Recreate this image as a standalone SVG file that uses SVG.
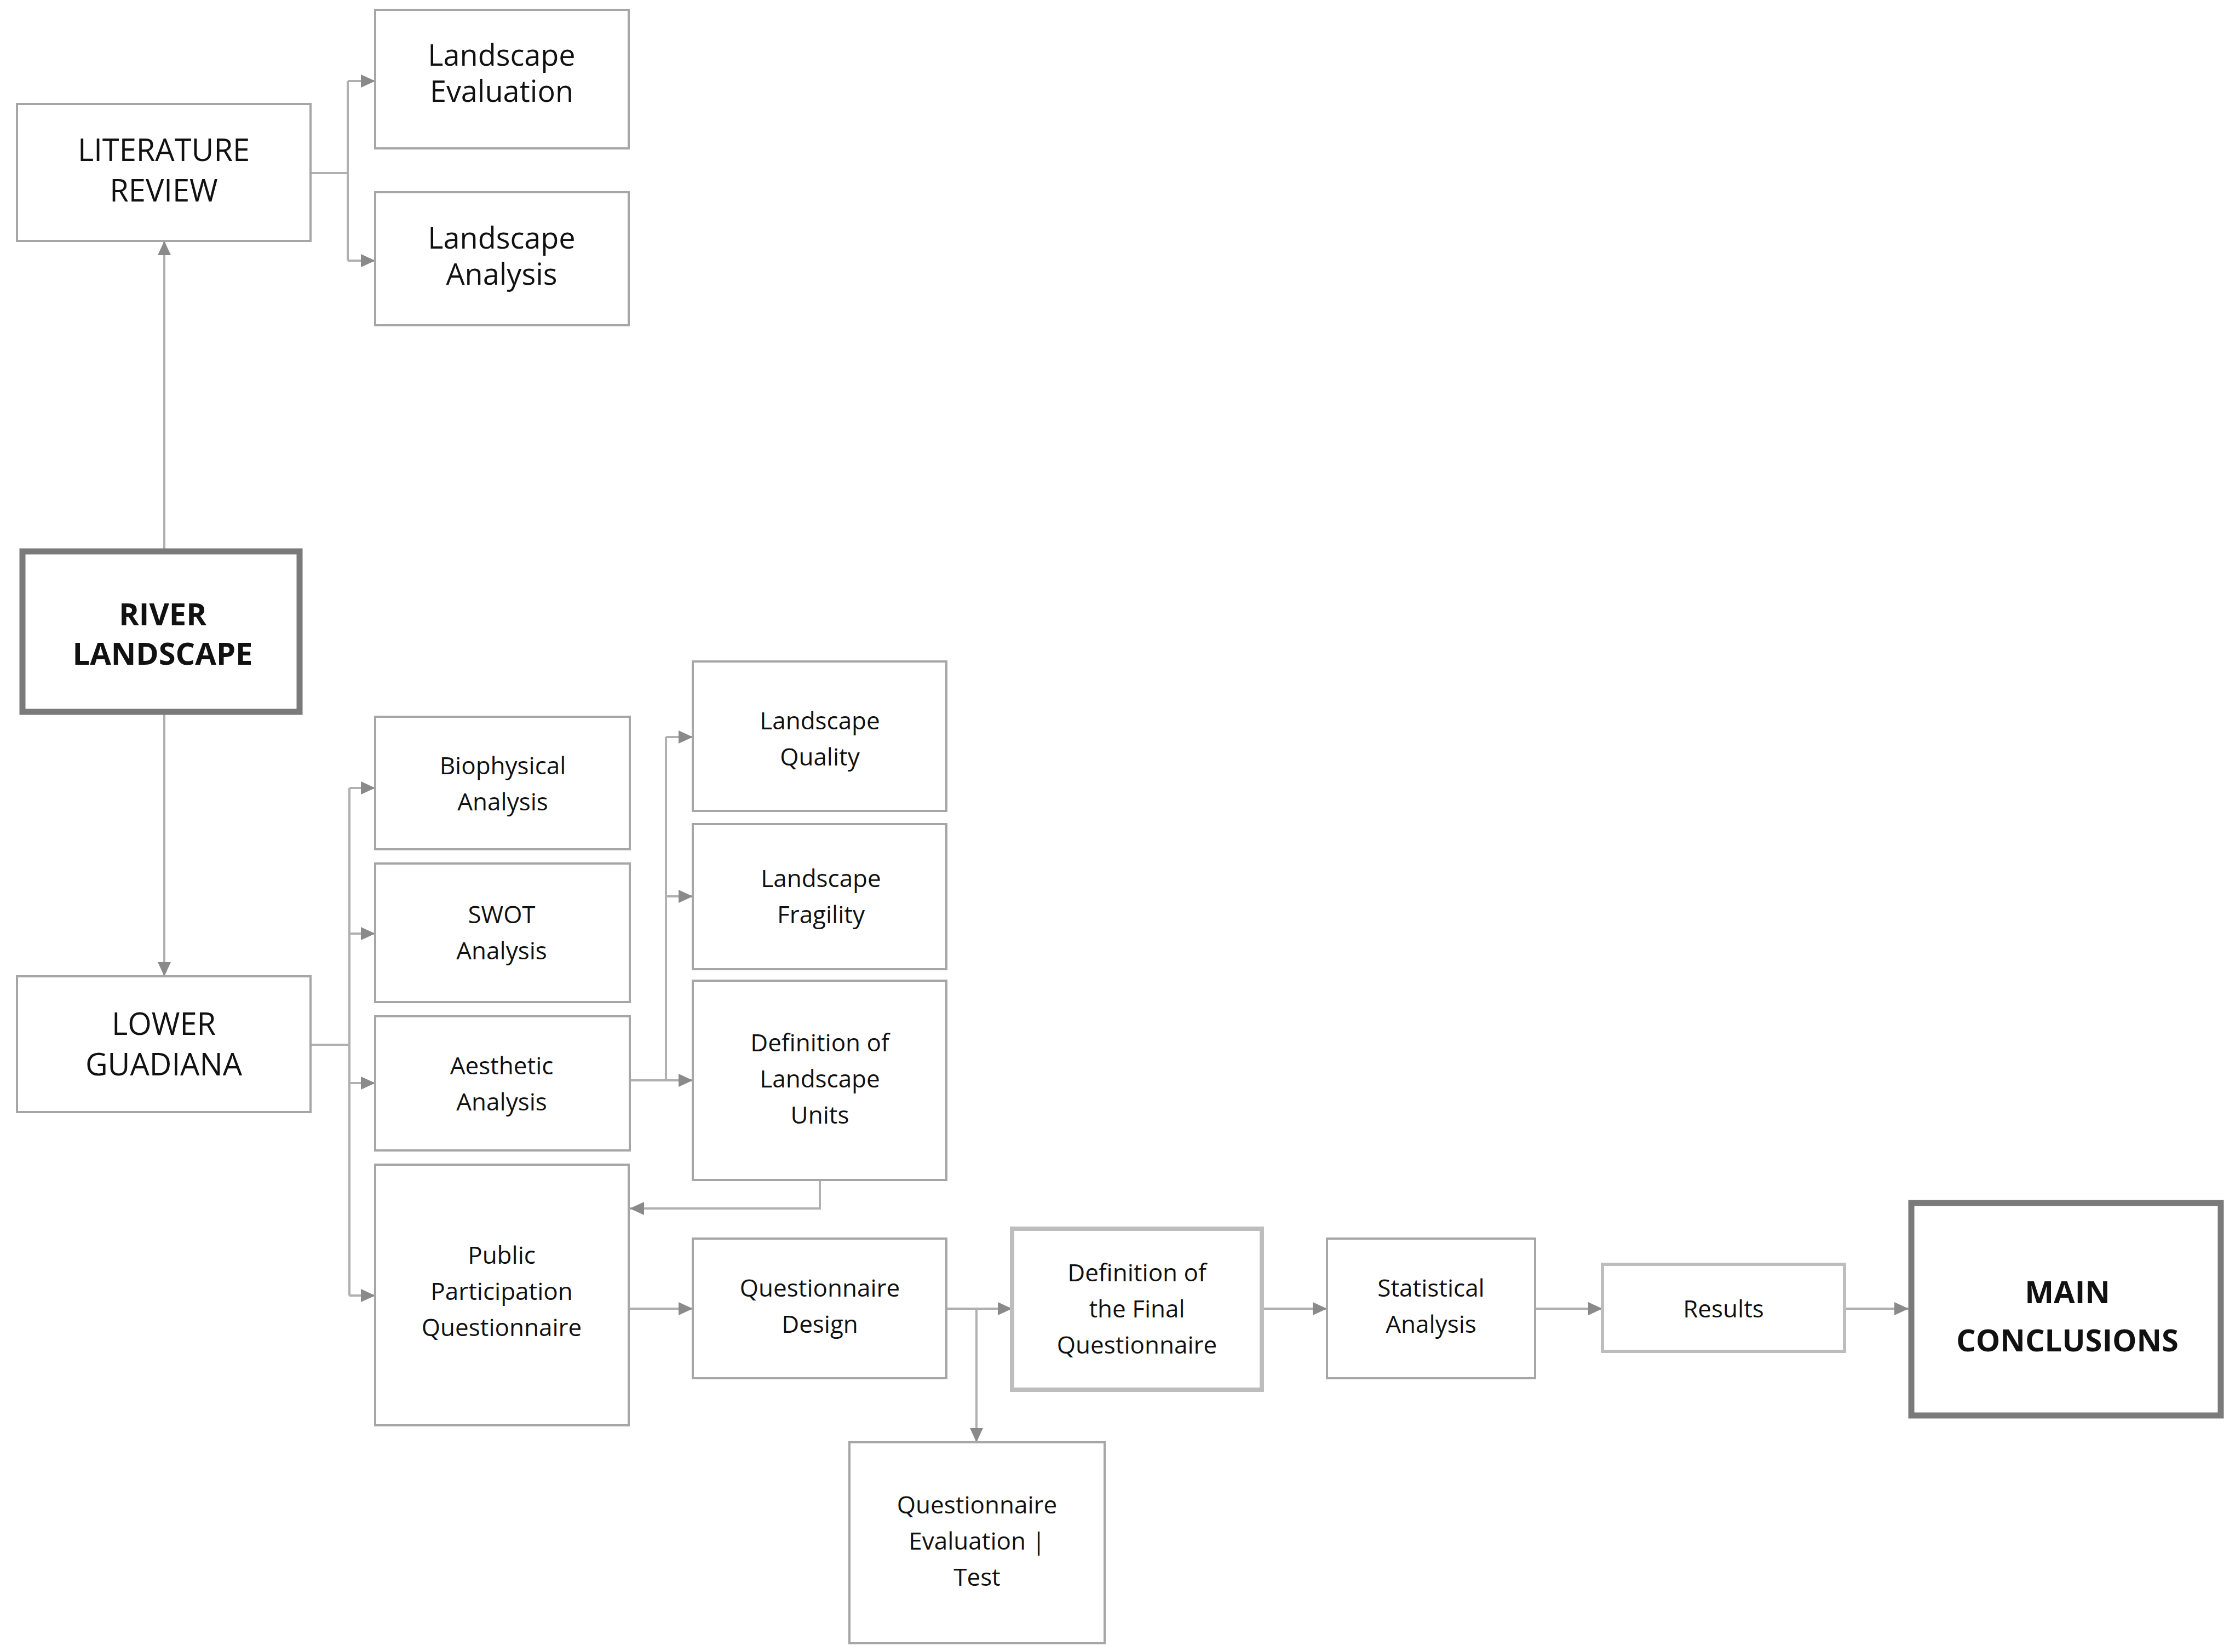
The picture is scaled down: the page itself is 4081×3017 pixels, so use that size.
<svg xmlns="http://www.w3.org/2000/svg" width="4081" height="3017" viewBox="0 0 4081 3017">
<style>
.b{fill:#fff;stroke:#a6a6a6;stroke-width:4}
.k{fill:#fff;stroke:#7a7a7a;stroke-width:11}
.t{font-family:"Open Sans","Noto Sans",sans-serif;fill:#111;text-anchor:middle}
.l{font-size:56px}.m{font-size:54px}.s{font-size:44px}.bd{font-size:56px;font-weight:bold}
.c{fill:none;stroke:#b0b0b0;stroke-width:4}
</style>
<defs><marker id="a" viewBox="0 0 26 24" refX="26" refY="12" markerWidth="26" markerHeight="24" orient="auto" markerUnits="userSpaceOnUse"><path d="M0,0L26,12L0,24z" fill="#8a8a8a"/></marker></defs>
<g id="connectors">
<path class="c" d="M567,316H635M635,148V476" />
<path class="c" d="M635,148H685" marker-end="url(#a)" />
<path class="c" d="M635,476H685" marker-end="url(#a)" />
<path class="c" d="M300,1005V440" marker-end="url(#a)" />
<path class="c" d="M300,1302V1783" marker-end="url(#a)" />
<path class="c" d="M567,1908H638M638,1439V2366" />
<path class="c" d="M638,1439H685" marker-end="url(#a)" />
<path class="c" d="M638,1705H685" marker-end="url(#a)" />
<path class="c" d="M638,1978H685" marker-end="url(#a)" />
<path class="c" d="M638,2366H685" marker-end="url(#a)" />
<path class="c" d="M1150,1973H1216M1216,1346V1973" />
<path class="c" d="M1216,1346H1265" marker-end="url(#a)" />
<path class="c" d="M1216,1637H1265" marker-end="url(#a)" />
<path class="c" d="M1216,1973H1265" marker-end="url(#a)" />
<path class="c" d="M1497,2155V2207H1150" marker-end="url(#a)" />
<path class="c" d="M1148,2390H1265" marker-end="url(#a)" />
<path class="c" d="M1728,2390H1848" marker-end="url(#a)" />
<path class="c" d="M1783,2390V2634" marker-end="url(#a)" />
<path class="c" d="M2304,2390H2423" marker-end="url(#a)" />
<path class="c" d="M2803,2390H2926" marker-end="url(#a)" />
<path class="c" d="M3368,2390H3485" marker-end="url(#a)" />
</g>
<g id="lit"><rect class="b" x="31" y="190" width="536" height="250"/><text class="t l" x="299" y="294">LITERATURE</text><text class="t l" x="299" y="368">REVIEW</text></g>
<g id="leval"><rect class="b" x="685" y="18" width="463" height="253"/><text class="t m" x="916" y="120">Landscape</text><text class="t m" x="916" y="186">Evaluation</text></g>
<g id="lanal"><rect class="b" x="685" y="351" width="463" height="243"/><text class="t m" x="916" y="454">Landscape</text><text class="t m" x="916" y="520">Analysis</text></g>
<g id="river"><rect class="k" x="41" y="1007" width="506" height="293"/><text class="t bd" x="297" y="1142">RIVER</text><text class="t bd" x="297" y="1214">LANDSCAPE</text></g>
<g id="lower"><rect class="b" x="31" y="1783" width="536" height="248"/><text class="t l" x="299" y="1890">LOWER</text><text class="t l" x="299" y="1964">GUADIANA</text></g>
<g id="bio"><rect class="b" x="685" y="1309" width="465" height="242"/><text class="t s" x="918" y="1414">Biophysical</text><text class="t s" x="918" y="1480">Analysis</text></g>
<g id="swot"><rect class="b" x="685" y="1577" width="465" height="253"/><text class="t s" x="916" y="1686">SWOT</text><text class="t s" x="916" y="1752">Analysis</text></g>
<g id="aes"><rect class="b" x="685" y="1856" width="465" height="245"/><text class="t s" x="916" y="1962">Aesthetic</text><text class="t s" x="916" y="2028">Analysis</text></g>
<g id="ppq"><rect class="b" x="685" y="2127" width="463" height="476"/><text class="t s" x="916" y="2308">Public</text><text class="t s" x="916" y="2374">Participation</text><text class="t s" x="916" y="2440">Questionnaire</text></g>
<g id="lq"><rect class="b" x="1265" y="1208" width="463" height="273"/><text class="t s" x="1497" y="1332">Landscape</text><text class="t s" x="1497" y="1398">Quality</text></g>
<g id="lf"><rect class="b" x="1265" y="1505" width="463" height="265"/><text class="t s" x="1499" y="1620">Landscape</text><text class="t s" x="1499" y="1686">Fragility</text></g>
<g id="dlu"><rect class="b" x="1265" y="1791" width="463" height="364"/><text class="t s" x="1497" y="1920">Definition of</text><text class="t s" x="1497" y="1986">Landscape</text><text class="t s" x="1497" y="2052">Units</text></g>
<g id="qd"><rect class="b" x="1265" y="2262" width="463" height="255"/><text class="t s" x="1497" y="2368">Questionnaire</text><text class="t s" x="1497" y="2434">Design</text></g>
<g id="dfq"><rect class="b" style="stroke:#bdbdbd;stroke-width:8" x="1848" y="2244" width="456" height="294"/><text class="t s" x="2076" y="2340">Definition of</text><text class="t s" x="2076" y="2406">the Final</text><text class="t s" x="2076" y="2472">Questionnaire</text></g>
<g id="stat"><rect class="b" x="2423" y="2262" width="380" height="255"/><text class="t s" x="2613" y="2368">Statistical</text><text class="t s" x="2613" y="2434">Analysis</text></g>
<g id="res"><rect class="b" style="stroke:#bdbdbd;stroke-width:6" x="2926" y="2309" width="442" height="159"/><text class="t s" x="3147" y="2406">Results</text></g>
<g id="main"><rect class="k" x="3490" y="2197" width="565" height="388"/><text class="t bd" x="3775" y="2380">MAIN</text><text class="t bd" x="3775" y="2468">CONCLUSIONS</text></g>
<g id="qet"><rect class="b" x="1551" y="2634" width="466" height="367"/><text class="t s" x="1784" y="2764">Questionnaire</text><text class="t s" x="1784" y="2830">Evaluation |</text><text class="t s" x="1784" y="2896">Test</text></g>
</svg>
